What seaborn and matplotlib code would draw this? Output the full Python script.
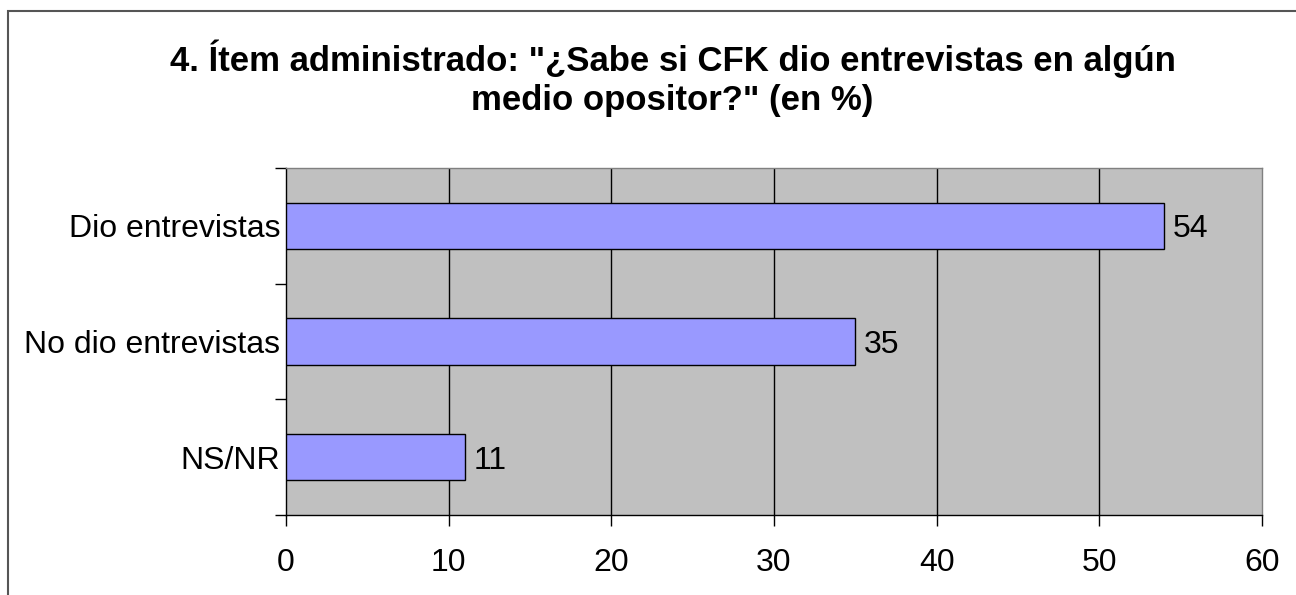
import matplotlib
matplotlib.use("Agg")
import matplotlib.pyplot as plt
from matplotlib.patches import Rectangle
from matplotlib.ticker import FixedLocator
import seaborn as sns
import pandas as pd

categories = ["Dio entrevistas", "No dio entrevistas", "NS/NR"]
values = [54, 35, 11]
x_ticks = [0, 10, 20, 30, 40, 50, 60]
title = '4. Ítem administrado: "¿Sabe si CFK dio entrevistas en algún\nmedio opositor?" (en %)'

sns.set_style("white")
plt.rcParams["font.family"] = ["Liberation Sans", "DejaVu Sans"]
plt.rcParams["text.color"] = "black"
plt.rcParams["xtick.color"] = "black"
plt.rcParams["ytick.color"] = "black"

df = pd.DataFrame({"cat": categories, "val": values})

fig = plt.figure(figsize=(12.96, 5.95), dpi=100)
fig.patch.set_facecolor("white")
ax = fig.add_axes([286 / 1296, 1 - 515 / 595, (1262 - 286) / 1296, (515 - 168) / 595])

# outer frame
fig.patches.append(Rectangle((8 / 1296, -0.1), 1.2, 1 - 11 / 595 + 0.1, transform=fig.transFigure,
                             fill=False, edgecolor="#555555", linewidth=1.5, zorder=0))

sns.barplot(data=df, x="val", y="cat", orient="h", color="#9999FF", saturation=1,
            edgecolor="black", linewidth=1, width=0.4, ax=ax, zorder=3)

ax.set_facecolor("#C0C0C0")
ax.set_xlim(0, 60)
ax.set_ylim(2.5, -0.5)
ax.set_xticks(x_ticks)
ax.set_xticklabels([str(t) for t in x_ticks], fontsize=23)
ax.tick_params(axis="x", direction="out", length=8, width=1, color="black", labelcolor="black",
               pad=16, bottom=True)
ax.tick_params(axis="y", which="major", length=0, pad=4, labelsize=23, labelcolor="black")
ax.yaxis.set_minor_locator(FixedLocator([-0.5, 0.5, 1.5, 2.5]))
ax.tick_params(axis="y", which="minor", direction="out", length=8, width=1, color="black", left=True)
ax.set_xlabel("")
ax.set_ylabel("")

for x in x_ticks[1:-1]:
    ax.axvline(x, color="black", linewidth=1, zorder=1)

for side in ["top", "right"]:
    ax.spines[side].set_color("#808080")
    ax.spines[side].set_linewidth(1)
for side in ["left", "bottom"]:
    ax.spines[side].set_color("black")
    ax.spines[side].set_linewidth(1)
    ax.spines[side].set_visible(True)

texts = ax.bar_label(ax.containers[0], labels=[str(v) for v in values], padding=6, fontsize=23,
                     color="black")
for t in texts:
    t.xyann = (t.xyann[0], -2.5)

fig.text(0.519, 1 - 78 / 595, title, ha="center", va="center", fontsize=25,
         fontweight="bold", linespacing=1.25, color="black")

fig.savefig("out.png", dpi=100)
